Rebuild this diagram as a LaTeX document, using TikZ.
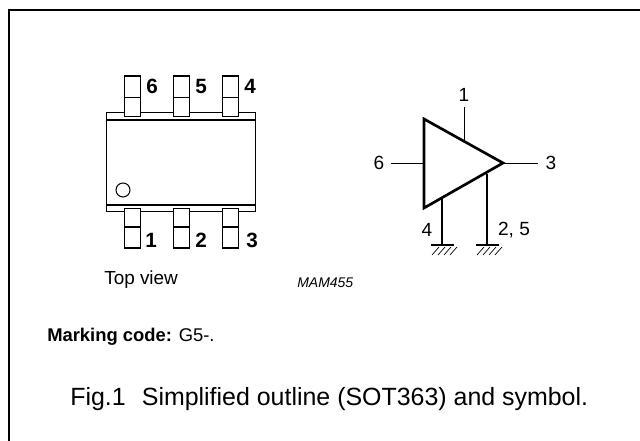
\documentclass[tikz,border=0pt]{standalone}
\usepackage{fontspec}
\setmainfont{Liberation Sans}
\usetikzlibrary{patterns}
\tikzset{
	x=0.75pt,y=-0.75pt,
	pin box/.style={draw,line width=1.2pt,minimum width=12pt,inner sep=0pt,fill=white},
	pin num/.style={font=\bfseries\fontsize{15.5}{16}\selectfont,inner sep=0pt},
	pin label/.style={font=\fontsize{14.3}{16}\selectfont,inner sep=0pt},
	amp lead/.style={line width=0.9pt},
	earth bar/.style={line width=2pt},
	earth hatch/.style={line width=0.5pt},
}
\begin{document}
\begin{tikzpicture}
				\useasboundingbox (0,0) rectangle (640,441);
				\draw[line width=1.1pt] (9,441) -- (9,10) -- (640,10);
				%
				\draw[line width=1.1pt] (106.5,112.5) rectangle (255.5,211.5);
				\draw[line width=1.3pt] (106.5,120) -- (255.5,120);
				\draw[line width=1.3pt] (106.5,205) -- (255.5,205);
				\draw[line width=0.8pt] (123,190) circle (7);
				% upper and lower pins
				\foreach \pinx/\upper/\lower in {132.5/6/1,181.5/5/2,230.5/4/3}{
					\node (up\upper a) [pin box,minimum height=16.5pt] at (\pinx,87) {};
					\node (up\upper b) [pin box,minimum height=14pt] at (\pinx,107) {};
					\node (lo\lower a) [pin box,minimum height=14pt] at (\pinx,218) {};
					\node (lo\lower b) [pin box,minimum height=16pt] at (\pinx,237.5) {};
				}
				\node (n6) [pin num] at (152,86) {6};
				\node (n5) [pin num] at (201,86) {5};
				\node (n4) [pin num] at (250,86) {4};
				\node (n1) [pin num] at (151,240) {1};
				\node (n2) [pin num] at (201,240) {2};
				\node (n3) [pin num] at (252,240) {3};
				%
				\coordinate (ampa) at (424,119);
				\coordinate (ampb) at (424,208);
				\coordinate (ampc) at (503,163);
				\node (lab1) [pin label] at (464,95) {1};
				\node (lab6) [pin label] at (379,163) {6};
				\node (lab3) [pin label] at (551,163) {3};
				\node (lab4) [pin label] at (427,230) {4};
				\node (lab25) [pin label] at (514,230) {2, 5};
				\coordinate (top1) at (464.5,107);
				\coordinate (left6) at (391,163.5);
				\coordinate (right3) at (538,163.5);
				\coordinate (gnda) at (442,245);
				\coordinate (gndb) at (487,245);
				\draw[amp lead] (top1) -- (464.5,141);
				\draw[amp lead] (left6) -- (424,163.5);
				\draw[amp lead] (503,163.5) -- (right3);
				\draw[line width=1pt] (442,199) -- (gnda);
				\draw[line width=1pt] (487,174) -- (gndb);
				\draw[line width=2pt,line join=miter] (ampa) -- (ampc) -- (ampb) -- cycle;
				\foreach \gnd in {gnda,gndb}{
					\draw[earth bar] ([shift={(-11.5,0)}]\gnd) -- ([shift={(11.5,0)}]\gnd);
					\foreach \i in {0,1,2,3}
						\draw[earth hatch] ([shift={(-10+\i*6,10)}]\gnd) -- ([shift={(-3+\i*6,2)}]\gnd);
				}
				%
				\node (topview) [anchor=west,inner sep=0pt,font=\fontsize{14.2}{16}\selectfont] at (104,280) {Top view};
				\node (mam) [anchor=west,inner sep=0pt,font=\itshape\fontsize{10.5}{12}\selectfont] at (297,283) {MAM455};
				\node (marking) [anchor=west,inner sep=0pt,font=\fontsize{13.8}{16}\selectfont] at (47,337) {\textbf{Marking code:} G5-.};
				\node (caption) [anchor=west,inner sep=0pt,font=\fontsize{18.7}{20}\selectfont] at (70,399) {Fig.1\hspace{0.65em}Simplified outline (SOT363) and symbol.};
			\end{tikzpicture}
\end{document}
